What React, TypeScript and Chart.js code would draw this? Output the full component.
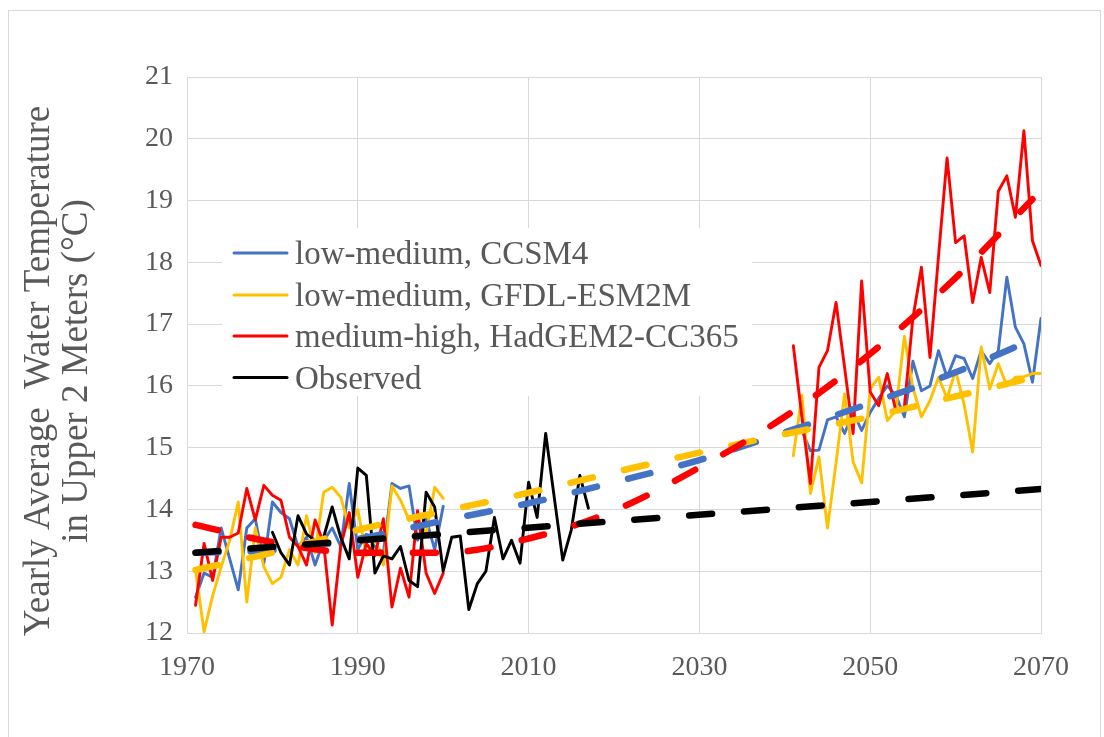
import React, { useEffect, useRef } from 'react';
import { Chart, registerables } from 'chart.js';

Chart.register(...registerables);

// ---------- data ----------
const histYears = [1971, 1972, 1973, 1974, 1975, 1976, 1977, 1978, 1979, 1980, 1981, 1982, 1983, 1984, 1985, 1986, 1987, 1988, 1989, 1990, 1991, 1992, 1993, 1994, 1995, 1996, 1997, 1998, 1999, 2000];
const futureYears = [2041, 2042, 2043, 2044, 2045, 2046, 2047, 2048, 2049, 2050, 2051, 2052, 2053, 2054, 2055, 2056, 2057, 2058, 2059, 2060, 2061, 2062, 2063, 2064, 2065, 2066, 2067, 2068, 2069, 2070];
const obsYears = [1980, 1981, 1982, 1983, 1984, 1985, 1986, 1987, 1988, 1989, 1990, 1991, 1992, 1993, 1994, 1995, 1996, 1997, 1998, 1999, 2000, 2001, 2002, 2003, 2004, 2005, 2006, 2007, 2008, 2009, 2010, 2011, 2012, 2013, 2014, 2015, 2016, 2017];

const ccsm4Hist = [12.58, 12.97, 12.9, 13.7, 13.2, 12.7, 13.7, 13.85, 13.13, 14.12, 13.95, 13.85, 13.4, 13.55, 13.1, 13.5, 13.7, 13.4, 14.42, 13.35, 13.6, 13.4, 13.3, 14.42, 14.34, 14.38, 13.5, 13.85, 13.35, 14.05];
const ccsm4Future = [15.3, 15.28, 14.95, 14.96, 15.45, 15.5, 15.23, 15.57, 15.28, 15.57, 15.8, 16.0, 15.85, 15.5, 16.4, 15.92, 16.0, 16.57, 16.14, 16.49, 16.44, 16.12, 16.57, 16.36, 16.57, 17.76, 16.95, 16.68, 16.06, 17.09];

const gfdlHist = [13.02, 12.02, 12.6, 13.07, 13.5, 14.12, 12.5, 13.7, 13.07, 12.8, 12.9, 13.35, 13.1, 13.9, 13.3, 14.28, 14.36, 14.2, 13.7, 14.0, 13.25, 13.55, 13.1, 14.38, 14.15, 13.83, 13.85, 13.6, 14.36, 14.18];
const gfdlFuture = [14.87, 15.85, 14.26, 14.85, 13.7, 14.75, 15.87, 14.77, 14.43, 15.95, 16.14, 15.44, 15.6, 16.8, 15.97, 15.5, 15.76, 16.14, 15.8, 16.25, 15.7, 14.93, 16.63, 15.95, 16.36, 16.0, 16.14, 16.15, 16.2, 16.2];

const hadgemHist = [12.45, 13.45, 12.85, 13.55, 13.55, 13.62, 14.34, 13.83, 14.39, 14.23, 14.15, 13.55, 13.4, 13.1, 13.83, 13.45, 12.13, 13.4, 13.95, 12.9, 13.45, 13.25, 13.85, 12.42, 13.05, 12.58, 13.98, 12.97, 12.64, 12.97];
const hadgemFuture = [16.65, 15.5, 14.42, 16.3, 16.57, 17.35, 16.3, 15.23, 17.7, 15.9, 15.68, 16.2, 15.6, 15.66, 17.1, 17.92, 16.46, 18.1, 19.69, 18.32, 18.43, 17.35, 18.08, 17.51, 19.15, 19.4, 18.73, 20.13, 18.35, 17.95];

const observed = [13.63, 13.3, 13.1, 13.9, 13.6, 13.5, 13.55, 14.04, 13.55, 13.2, 14.67, 14.55, 12.97, 13.25, 13.2, 13.4, 12.85, 12.75, 14.28, 14.04, 13.0, 13.55, 13.57, 12.38, 12.8, 13.0, 13.87, 13.2, 13.5, 13.13, 14.44, 13.87, 15.23, 14.2, 13.18, 13.67, 14.55, 14.02];

// trend lines
const trendYears = [1971, 1980, 1990, 2000, 2010, 2020, 2030, 2040, 2050, 2060, 2070];
const ccsm4Trend = [13.3, 13.34, 13.52, 13.82, 14.1, 14.44, 14.8, 15.25, 15.72, 16.22, 16.81];
const gfdlTrend = [13.02, 13.3, 13.67, 13.97, 14.27, 14.6, 14.92, 15.22, 15.5, 15.83, 16.17];
const hadgemTrendYears = [1971, 1980, 1990, 2000, 2010, 2020, 2030, 2040, 2050, 2060, 2069];
const hadgemTrend = [13.75, 13.47, 13.3, 13.3, 13.53, 13.98, 14.68, 15.5, 16.52, 17.75, 19.02];
const observedTrendYears = [1971, 2070];
const observedTrend = [13.3, 14.33];

const seriesNames = ['low-medium, CCSM4', 'low-medium, GFDL-ESM2M', 'medium-high, HadGEM2-CC365', 'Observed'];
const seriesColors = ['#4472C4', '#FFC000', '#FF0000', '#000000'];
const xTicks = [1970, 1990, 2010, 2030, 2050, 2070];
const yTicks = [12, 13, 14, 15, 16, 17, 18, 19, 20, 21];
const yTitle = ['Yearly Average  Water Temperature', 'in Upper 2 Meters (\u00B0C)'];

// ---------- helpers ----------
const pts = (xs: number[], ys: number[]) => xs.map((x, i) => ({ x, y: ys[i] }));
const modelPts = (h: number[], f: number[]) => [...pts(histYears, h), { x: 2020, y: null as any }, ...pts(futureYears, f)];

const SERIF = '"Liberation Serif", "Times New Roman", serif';
const TEXT = '#595959';
const GRID = '#d9d9d9';

const decorPlugin = {
  id: 'decor',
  beforeDraw(chart: any) {
    const ctx = chart.ctx;
    ctx.save();
    ctx.fillStyle = '#ffffff';
    ctx.fillRect(0, 0, chart.width, chart.height);
    ctx.strokeStyle = GRID;
    ctx.lineWidth = 1;
    ctx.strokeRect(8.5, 10.5, 1092, 740);
    ctx.restore();
  },
  afterDraw(chart: any) {
    const ctx = chart.ctx;
    ctx.save();
    // y-axis title
    ctx.fillStyle = TEXT;
    ctx.font = `37px ${SERIF}`;
    ctx.textAlign = 'center';
    ctx.textBaseline = 'middle';
    const cy = 371;
    [39, 77].forEach((cx, i) => {
      ctx.save();
      ctx.translate(cx, cy);
      ctx.rotate(-Math.PI / 2);
      ctx.fillText(yTitle[i], 0, 0);
      ctx.restore();
    });
    // legend
    ctx.fillStyle = '#ffffff';
    ctx.fillRect(222, 228, 530, 168);
    const rows = [253, 295, 336, 377.5];
    ctx.font = `33px ${SERIF}`;
    ctx.textAlign = 'left';
    ctx.textBaseline = 'alphabetic';
    seriesNames.forEach((name, i) => {
      const y = rows[i];
      ctx.strokeStyle = seriesColors[i];
      ctx.lineWidth = 3;
      ctx.lineCap = 'round';
      ctx.beginPath();
      ctx.moveTo(234, y);
      ctx.lineTo(287, y);
      ctx.stroke();
      ctx.fillStyle = TEXT;
      ctx.fillText(name, 295, y + 11);
    });
    ctx.restore();
  },
};

export default function App() {
  const ref = useRef<HTMLCanvasElement | null>(null);
  useEffect(() => {
    if (!ref.current) return;
    const dataLine = (label: string, data: any[], color: string, order: number) => ({
      label,
      data,
      borderColor: color,
      backgroundColor: color,
      borderWidth: 2.9,
      pointRadius: 0,
      tension: 0,
      borderJoinStyle: 'round' as const,
      borderCapStyle: 'round' as const,
      spanGaps: false,
      order,
    });
    const trendLine = (label: string, data: any[], color: string, order: number) => ({
      label,
      data,
      borderColor: color,
      backgroundColor: color,
      borderWidth: 6.5,
      borderDash: [23, 32],
      borderCapStyle: 'round' as const,
      pointRadius: 0,
      cubicInterpolationMode: 'monotone' as const,
      order,
    });
    const chart = new Chart(ref.current, {
      type: 'line',
      data: {
        datasets: [
          dataLine(seriesNames[0], modelPts(ccsm4Hist, ccsm4Future), seriesColors[0], 7),
          dataLine(seriesNames[1], modelPts(gfdlHist, gfdlFuture), seriesColors[1], 6),
          dataLine(seriesNames[2], modelPts(hadgemHist, hadgemFuture), seriesColors[2], 5),
          dataLine(seriesNames[3], pts(obsYears, observed), seriesColors[3], 4),
          trendLine('Trend CCSM4', pts(trendYears, ccsm4Trend), seriesColors[0], 3),
          trendLine('Trend GFDL', pts(trendYears, gfdlTrend), seriesColors[1], 2),
          trendLine('Trend HadGEM2', pts(hadgemTrendYears, hadgemTrend), seriesColors[2], 1),
          trendLine('Trend Observed', pts(observedTrendYears, observedTrend), seriesColors[3], 0),
        ],
      },
      options: {
        responsive: false,
        animation: false,
        devicePixelRatio: 1,
        layout: { padding: { left: 0, top: 77, right: 63, bottom: 0 }, autoPadding: false },
        plugins: { legend: { display: false }, tooltip: { enabled: false }, title: { display: false } },
        scales: {
          x: {
            type: 'linear',
            min: 1970,
            max: 2070,
            afterFit: (s: any) => { s.height = 104; },
            afterBuildTicks: (s: any) => { s.ticks = xTicks.map((v) => ({ value: v })); },
            ticks: {
              callback: (v: any) => String(v),
              font: { family: SERIF, size: 28 },
              color: TEXT,
              padding: 18,
              maxRotation: 0,
            },
            grid: { color: GRID, lineWidth: 1, drawTicks: false },
            border: { color: GRID, width: 1 },
          },
          y: {
            type: 'linear',
            min: 12,
            max: 21,
            afterFit: (s: any) => { s.width = 187; },
            afterBuildTicks: (s: any) => { s.ticks = yTicks.map((v) => ({ value: v })); },
            ticks: {
              callback: (v: any) => String(v),
              font: { family: SERIF, size: 28 },
              color: TEXT,
              padding: 14,
            },
            grid: { color: GRID, lineWidth: 1, drawTicks: false },
            border: { color: GRID, width: 1 },
          },
        },
      },
      plugins: [decorPlugin],
    });
    return () => chart.destroy();
  }, []);
  return (
    <div style={{ position: 'fixed', left: 0, top: 0, width: 1104, height: 737 }}>
      <canvas ref={ref} width={1104} height={737} style={{ width: 1104, height: 737 }} />
    </div>
  );
}
